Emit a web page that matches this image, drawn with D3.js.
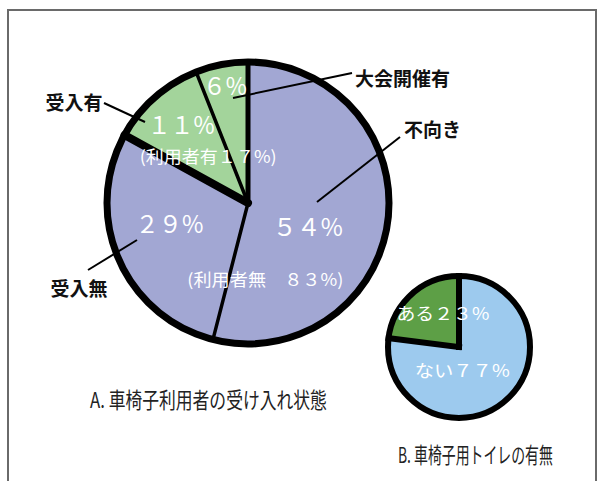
<!DOCTYPE html>
<html>
<head>
<meta charset="utf-8">
<script src="https://cdn.jsdelivr.net/npm/d3@7"></script>
<style>
  html, body { margin: 0; padding: 0; background: #fff; }
  svg { display: block; }
  text { font-family: "Noto Sans CJK JP", "Noto Sans", sans-serif; }
</style>
</head>
<body>
<div id="chart"></div>
<script>
// ---- data ----
const pieACategories = ["不向き", "受入無", "受入有", "大会開催有"];
const pieAValues = [54, 29, 11, 6];
const pieAGroupLabels = ["(利用者無　８３%)", "(利用者有１７%)"];
const pieATitle = "A. 車椅子利用者の受け入れ状態";

const pieBCategories = ["ない", "ある"];
const pieBValues = [77, 23];
const pieBTitle = "B. 車椅子用トイレの有無";

// ---- helpers ----
const W = 602, H = 481;
const toFW = s => String(s).replace(/[0-9]/g, d => String.fromCharCode(d.charCodeAt(0) + 0xFEE0));
const rad = d => d * Math.PI / 180;
const polar = (cx, cy, angDeg, r) => [cx + r * Math.sin(rad(angDeg)), cy - r * Math.cos(rad(angDeg))];

const svg = d3.select("#chart").append("svg").attr("width", W).attr("height", H);
svg.append("rect").attr("width", W).attr("height", H).attr("fill", "#fff");

// frame
svg.append("path").attr("d", `M8,${H + 2} V10 H596 V${H + 2}`)
  .attr("fill", "none").attr("stroke", "#6a6a6a").attr("stroke-width", 2);

// ---- Pie A ----
const A = { cx: 248, cy: 203, r: 141 };
const colorA = d3.scaleOrdinal().domain(pieACategories).range(["#a2a7d3", "#a2a7d3", "#a3d49b", "#a3d49b"]);
const pieA = d3.pie().sort(null).value(d => d)(pieAValues);
const arcA = d3.arc().innerRadius(0).outerRadius(A.r);
const gA = svg.append("g").attr("transform", `translate(${A.cx},${A.cy})`);
gA.selectAll("path.slice").data(pieA).join("path").attr("class", "slice")
  .attr("d", arcA).attr("fill", (d, i) => colorA(pieACategories[i]))
  .attr("stroke", "none");
const sepWidthA = [5, 3.5, 8, 3.5];
gA.selectAll("line.sep").data(pieA).join("line").attr("class", "sep")
  .attr("x1", 0).attr("y1", 0)
  .attr("x2", d => A.r * Math.sin(d.startAngle))
  .attr("y2", d => -A.r * Math.cos(d.startAngle))
  .attr("stroke", "#000").attr("stroke-width", (d, i) => sepWidthA[i]).attr("stroke-linecap", "round");
gA.append("circle").attr("r", A.r).attr("fill", "none").attr("stroke", "#000").attr("stroke-width", 7);

// percentage labels inside slices: [angle deg, radius, width]
const pctPosA = [[111, 64, 70], [256, 81, 68], [320, 104, 67], [349, 121, 44]];
pieA.forEach((d, i) => {
  const [x, y] = polar(A.cx, A.cy, pctPosA[i][0], pctPosA[i][1]);
  svg.append("text").attr("x", x - pctPosA[i][2] / 2).attr("y", y)
    .attr("dominant-baseline", "central").attr("fill", "#fff").attr("font-size", 24)
    .attr("textLength", pctPosA[i][2]).attr("lengthAdjust", "spacingAndGlyphs")
    .text(toFW(d.data) + "%");
});
const grpPosA = [[167, 77, 156], [320, 62, 137]];
pieAGroupLabels.forEach((t, i) => {
  const [x, y] = polar(A.cx, A.cy, grpPosA[i][0], grpPosA[i][1]);
  svg.append("text").attr("x", x - grpPosA[i][2] / 2).attr("y", y)
    .attr("dominant-baseline", "central").attr("fill", "#fff").attr("font-size", 17)
    .attr("textLength", grpPosA[i][2]).attr("lengthAdjust", "spacingAndGlyphs")
    .text(t);
});

// category labels with leader lines
const leaderStartA = [[317, 202], [137, 240], [145, 122], [233, 98]];
const leaderEndA = [[400, 137], [88, 270], [104, 103], [352, 73]];
const labelPosA = [[404, 128, "start"], [79, 287, "middle"], [74, 101, "middle"], [355, 77, "start"]];
pieACategories.forEach((c, i) => {
  svg.append("line")
    .attr("x1", leaderStartA[i][0]).attr("y1", leaderStartA[i][1])
    .attr("x2", leaderEndA[i][0]).attr("y2", leaderEndA[i][1])
    .attr("stroke", "#000").attr("stroke-width", 2);
  svg.append("text").attr("x", labelPosA[i][0]).attr("y", labelPosA[i][1]).attr("text-anchor", labelPosA[i][2])
    .attr("dominant-baseline", "central").attr("fill", "#111").attr("font-size", 19)
    .attr("font-weight", 700).text(c);
});

// titles (condensed glyphs via horizontal scale)
function condensedTitle(txt, x, y, targetW) {
  const g = svg.append("g").attr("transform", `translate(${x},${y})`);
  const t = g.append("text").attr("x", 0).attr("y", 0).attr("dominant-baseline", "central")
    .attr("font-size", 22).attr("fill", "#222").text(txt);
  const natural = t.node().getComputedTextLength();
  g.attr("transform", `translate(${x},${y}) scale(${targetW / natural},1)`);
}
condensedTitle(pieATitle, 90, 398, 237);

// ---- Pie B ----
const B = { cx: 459, cy: 347, r: 71 };
const colorB = d3.scaleOrdinal().domain(pieBCategories).range(["#9dcaee", "#5d9f46"]);
const pieB = d3.pie().sort(null).value(d => d)(pieBValues);
const arcB = d3.arc().innerRadius(0).outerRadius(B.r);
const gB = svg.append("g").attr("transform", `translate(${B.cx},${B.cy})`);
gB.selectAll("path.slice").data(pieB).join("path").attr("class", "slice")
  .attr("d", arcB).attr("fill", (d, i) => colorB(pieBCategories[i])).attr("stroke", "none");
gB.selectAll("line.sep").data(pieB).join("line").attr("class", "sep")
  .attr("x1", 0).attr("y1", 0)
  .attr("x2", d => B.r * Math.sin(d.startAngle))
  .attr("y2", d => -B.r * Math.cos(d.startAngle))
  .attr("stroke", "#000").attr("stroke-width", 6).attr("stroke-linecap", "square");
gB.append("circle").attr("r", B.r).attr("fill", "none").attr("stroke", "#000").attr("stroke-width", 6);

const posB = [[172, 23, 95], [335, 38, 93]];
pieB.forEach((d, i) => {
  const [x, y] = polar(B.cx, B.cy, posB[i][0], posB[i][1]);
  svg.append("text").attr("x", x - posB[i][2] / 2).attr("y", y)
    .attr("dominant-baseline", "central").attr("fill", "#fff").attr("font-size", 17)
    .attr("textLength", posB[i][2]).attr("lengthAdjust", "spacingAndGlyphs")
    .text(pieBCategories[i] + toFW(d.data) + "%");
});

condensedTitle(pieBTitle, 398, 453, 155);
</script>
</body>
</html>
